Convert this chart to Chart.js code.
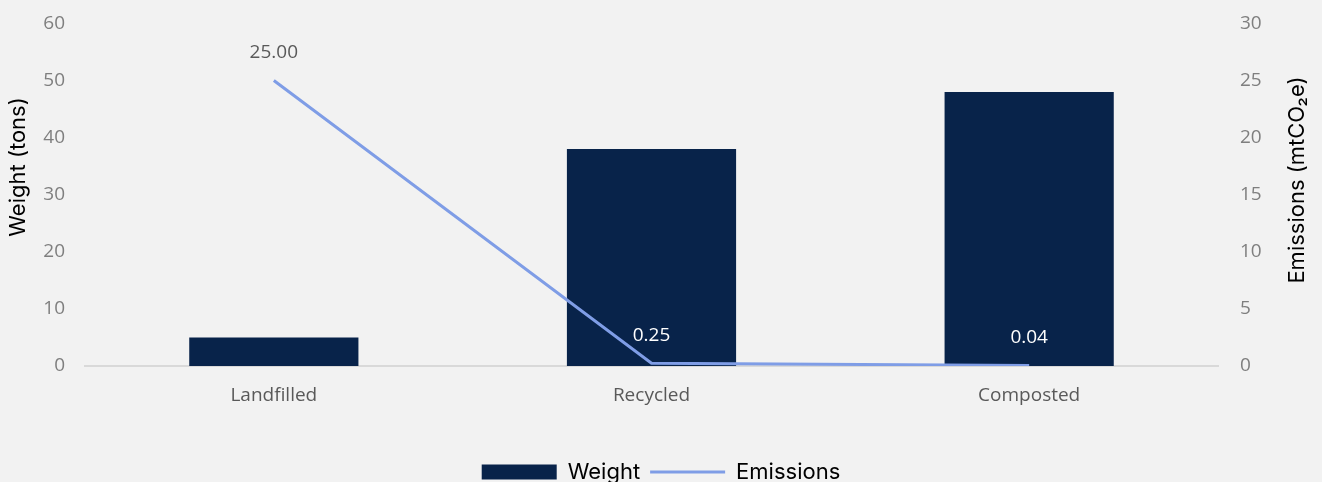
<!DOCTYPE html>
<html>
<head>
<meta charset="utf-8">
<script src="https://cdn.jsdelivr.net/npm/chart.js@4.4.1/dist/chart.umd.min.js"></script>
<style>
  html, body { margin: 0; padding: 0; background: #f2f2f2; overflow: hidden; }
  #wrap { width: 1322px; height: 503px; margin-top: -10px; }
</style>
</head>
<body>
<div id="wrap"><canvas id="grafico"></canvas></div>
<script>
const categorias = ['Landfilled', 'Recycled', 'Composted'];
const peso = [5, 38, 48];
const emissoes = [25, 0.25, 0.04];
const ticksPeso = [0, 10, 20, 30, 40, 50, 60];
const ticksEmissoes = [0, 5, 10, 15, 20, 25, 30];
const tituloEsquerda = 'Weight (tons)';
const tituloDireita = 'Emissions (mtCO₂e)';

function tituloVertical(ctx, texto, x, y) {
    ctx.save();
    ctx.translate(x, y);
    ctx.rotate(-Math.PI / 2);
    ctx.font = '22px Inter';
    ctx.fillStyle = '#000000';
    ctx.textAlign = 'center';
    ctx.textBaseline = 'middle';
    ctx.fillText(texto, 0, 0);
    ctx.restore();
}

// rótulos em cima da linha + títulos dos eixos
// (o canvas sobe 10px pelo css, por isso o +10 nos títulos)
const rotulosLinha = {
    id: 'rotulosLinha',
    afterDatasetsDraw(chart) {
        const meta = chart.getDatasetMeta(1);
        const cores = ['#595959', '#ffffff', '#ffffff'];
        const ctx = chart.ctx;
        ctx.save();
        ctx.font = '19px "Open Sans"';
        ctx.textAlign = 'center';
        ctx.textBaseline = 'middle';
        meta.data.forEach((ponto, i) => {
            ctx.fillStyle = cores[i];
            ctx.fillText(emissoes[i].toFixed(2), ponto.x, ponto.y - 28);
        });
        ctx.restore();

        tituloVertical(ctx, tituloEsquerda, 18, 177);
        tituloVertical(ctx, tituloDireita, 1297, 190);
    }
};

const graficoResiduos = new Chart(document.getElementById('grafico'), {
    type: 'bar',
    data: {
        labels: categorias,
        datasets: [{
            label: 'Weight',
            data: peso,
            backgroundColor: '#08234a',
            yAxisID: 'y',
            order: 1,
            categoryPercentage: 1,
            barPercentage: 0.448,
            pointStyle: 'rect'
        }, {
            type: 'line',
            label: 'Emissions',
            data: emissoes,
            borderColor: '#7f9de6',
            backgroundColor: '#7f9de6',
            borderWidth: 3,
            pointRadius: 0,
            yAxisID: 'y1',
            order: 0,
            pointStyle: 'line'
        }]
    },
    options: {
        responsive: true,
        maintainAspectRatio: false,
        animation: false,
        layout: { padding: { top: 2, bottom: 0 } },
        plugins: {
            tooltip: { enabled: false },
            legend: {
                position: 'bottom',
                labels: {
                    usePointStyle: true,
                    pointStyleWidth: 75,
                    boxHeight: 15,
                    padding: 10,
                    color: '#000000',
                    font: { family: 'Inter', size: 22 },
                    sort: (a, b) => a.datasetIndex - b.datasetIndex
                }
            }
        },
        scales: {
            x: {
                grid: { display: false },
                border: { display: true, color: '#d9d9d9', width: 2 },
                afterFit: (scale) => { scale.height = 85; },
                ticks: { color: '#595959', font: { family: 'Open Sans', size: 19 }, padding: 10 }
            },
            y: {
                position: 'left',
                min: 0,
                max: 60,
                afterBuildTicks: (scale) => { scale.ticks = ticksPeso.map(v => ({ value: v })); },
                afterFit: (scale) => { scale.width = 85; },
                grid: { display: false, drawTicks: false },
                border: { display: false },
                ticks: { color: '#7f7f7f', font: { family: 'Open Sans', size: 19 }, padding: 20 }
            },
            y1: {
                position: 'right',
                min: 0,
                max: 30,
                afterBuildTicks: (scale) => { scale.ticks = ticksEmissoes.map(v => ({ value: v })); },
                afterFit: (scale) => { scale.width = 104; },
                grid: { display: false, drawTicks: false },
                border: { display: false },
                ticks: { color: '#7f7f7f', font: { family: 'Open Sans', size: 19 }, padding: 22 }
            }
        }
    },
    plugins: [rotulosLinha]
});
</script>
</body>
</html>
